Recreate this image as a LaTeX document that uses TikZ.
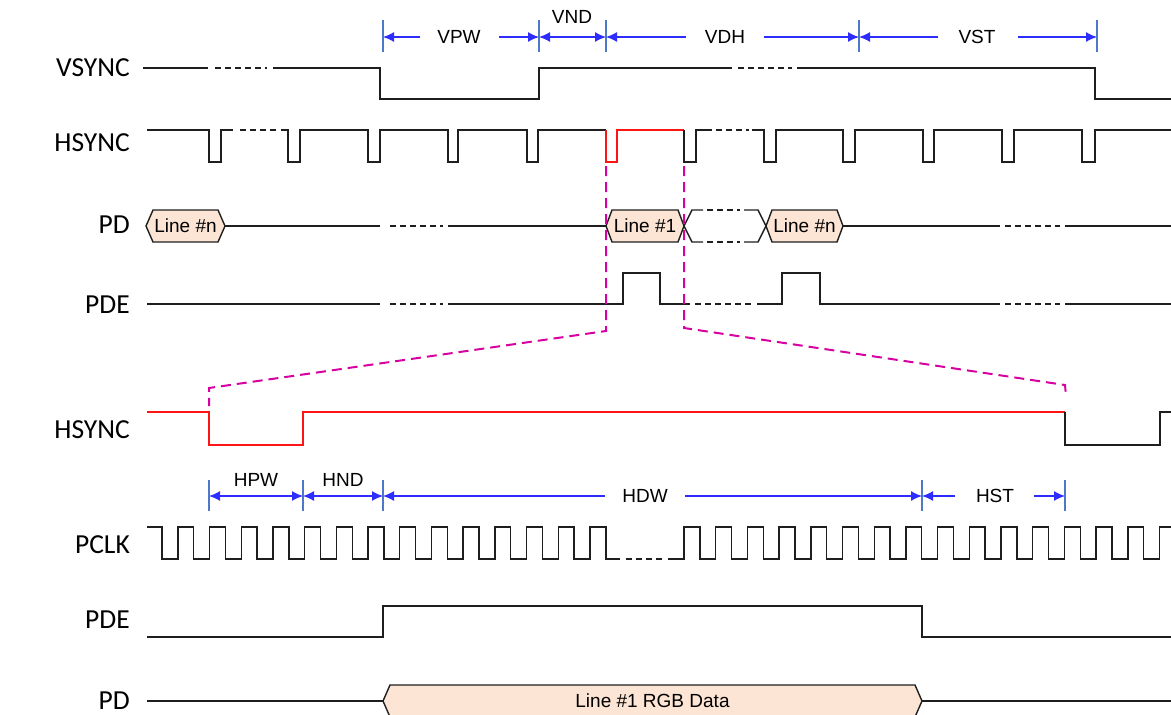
\documentclass[tikz,border=0pt]{standalone}
\usepackage{fontspec}
\usetikzlibrary{arrows.meta}
\newfontfamily\sigfont{Carlito}
\newfontfamily\arlfont{Liberation Sans}
\definecolor{sigblk}{RGB}{30,30,30}
\definecolor{sigred}{RGB}{255,20,20}
\definecolor{dimblue}{RGB}{45,45,255}
\definecolor{tickblue}{RGB}{80,120,200}
\definecolor{zoommag}{RGB}{215,0,160}
\definecolor{peach}{RGB}{252,229,213}
\tikzset{
  sig/.style={draw=sigblk, line width=1.4pt, line join=miter},
  sigr/.style={draw=sigred, line width=1.4pt, line join=miter},
  gapline/.style={draw=sigblk, line width=1.4pt, dash pattern=on 6pt off 4pt},
  hexbox/.style={draw=sigblk, line width=1.4pt, fill=peach, line join=miter},
  siglabel/.style={anchor=east, inner sep=0pt, font=\sigfont\fontsize{27.5}{30}\selectfont},
  dimlabel/.style={inner sep=0pt, font=\arlfont\fontsize{19}{21}\selectfont},
  hexlabel/.style={inner sep=0pt, font=\arlfont\fontsize{19}{21}\selectfont},
  dimarrow/.style={draw=dimblue, line width=1.3pt, -{Latex[length=11pt,width=10pt]}},
  dimboth/.style={draw=dimblue, line width=1.3pt, {Latex[length=11pt,width=10pt]}-{Latex[length=11pt,width=10pt]}},
  dimtick/.style={draw=tickblue, line width=1.1pt},
  zoomline/.style={draw=zoommag, line width=2pt, dash pattern=on 10pt off 6pt}
}
\begin{document}
\begin{tikzpicture}[x=1pt,y=-1pt]
\useasboundingbox (0,0) rectangle (1171,715);

% ---------- signal labels ----------
\node[siglabel] (lvs)  at (130,68)  {VSYNC};
\node[siglabel] (lhs)  at (130,143) {HSYNC};
\node[siglabel] (lpd)  at (130,225) {PD};
\node[siglabel] (lpde) at (130,305) {PDE};
\node[siglabel] (lhs2) at (130,430) {HSYNC};
\node[siglabel] (lclk) at (130,545) {PCLK};
\node[siglabel] (lpde2) at (130,620) {PDE};
\node[siglabel] (lpd2) at (130,701) {PD};

% ---------- upper dimensions ----------
\foreach \x in {383,539,606,859,1097} \draw[dimtick] (\x,20) -- (\x,52);
\draw[dimarrow] (420,37) -- (383,37);
\draw[dimarrow] (499,37) -- (539,37);
\node[dimlabel] (vpw) at (459,37) {VPW};
\draw[dimboth] (539,37) -- (606,37);
\node[dimlabel] (vnd) at (572,17) {VND};
\draw[dimarrow] (686,37) -- (606,37);
\draw[dimarrow] (764,37) -- (859,37);
\node[dimlabel] (vdh) at (725,37) {VDH};
\draw[dimarrow] (938,37) -- (859,37);
\draw[dimarrow] (1018,37) -- (1097,37);
\node[dimlabel] (vst) at (977,37) {VST};

% ---------- VSYNC ----------
\draw[sig] (143,68) -- (208,68);
\draw[gapline] (215,68) -- (267,68);
\draw[sig] (273,68) -- (380,68) -- (380,99) -- (539,99) -- (539,68) -- (732,68);
\draw[gapline] (738,68) -- (792,68);
\draw[sig] (797,68) -- (1095,68) -- (1095,99) -- (1171,99);

% ---------- HSYNC (frame) ----------
\draw[sig] (147,130) -- (209,130) -- (209,162) -- (221,162) -- (221,130) -- (233,130);
\draw[gapline] (240,130) -- (277,130);
\draw[sig] (281,130) -- (288,130) -- (288,162) -- (300,162) -- (300,130)
  -- (368,130) -- (368,162) -- (380,162) -- (380,130)
  -- (448,130) -- (448,162) -- (458,162) -- (458,130)
  -- (527,130) -- (527,162) -- (538,162) -- (538,130) -- (606,130);
\draw[sigr] (606,130) -- (606,162) -- (617,162) -- (617,130) -- (684,130);
\draw[sig] (684,130) -- (684,162) -- (696,162) -- (696,130) -- (712,130);
\draw[gapline] (716,130) -- (749,130);
\draw[sig] (752,130) -- (764,130) -- (764,162) -- (776,162) -- (776,130)
  -- (843,130) -- (843,162) -- (855,162) -- (855,130)
  -- (923,130) -- (923,162) -- (934,162) -- (934,130)
  -- (1002,130) -- (1002,162) -- (1014,162) -- (1014,130)
  -- (1082,130) -- (1082,162) -- (1095,162) -- (1095,130) -- (1171,130);

% ---------- PD (frame) ----------
\draw[hexbox] (146,226) -- (153,210) -- (218,210) -- (225,226) -- (218,242) -- (153,242) -- cycle;
\node[hexlabel] (pdn1) at (185.5,226) {Line \#n};
\draw[sig] (225,226) -- (380,226);
\draw[gapline] (390,226) -- (443,226);
\draw[sig] (448,226) -- (606,226);
\draw[hexbox] (606,226) -- (612,210) -- (678,210) -- (684,226) -- (678,242) -- (612,242) -- cycle;
\node[hexlabel] (pd1) at (645,226) {Line \#1};
\draw[sig] (684,226) -- (692,210) -- (703,210);
\draw[gapline] (707,210) -- (740,210);
\draw[sig] (744,210) -- (758,210) -- (766,226);
\draw[sig] (684,226) -- (692,242) -- (703,242);
\draw[gapline] (707,242) -- (740,242);
\draw[sig] (744,242) -- (758,242) -- (766,226);
\draw[hexbox] (766,226) -- (772,210) -- (837,210) -- (843,226) -- (837,242) -- (772,242) -- cycle;
\node[hexlabel] (pdn2) at (804.5,226) {Line \#n};
\draw[sig] (843,226) -- (1000,226);
\draw[gapline] (1005,226) -- (1060,226);
\draw[sig] (1065,226) -- (1171,226);

% ---------- PDE (frame) ----------
\draw[sig] (147,304) -- (380,304);
\draw[gapline] (390,304) -- (443,304);
\draw[sig] (448,304) -- (623,304) -- (623,273) -- (660,273) -- (660,304) -- (690,304);
\draw[gapline] (695,304) -- (752,304);
\draw[sig] (757,304) -- (782,304) -- (782,273) -- (820,273) -- (820,304) -- (1000,304);
\draw[gapline] (1005,304) -- (1060,304);
\draw[sig] (1065,304) -- (1171,304);

% ---------- zoom lines ----------
\coordinate (zl0) at (606,166);
\coordinate (zl1) at (606,331);
\coordinate (zl2) at (209,388);
\coordinate (zl3) at (209,406);
\coordinate (zr0) at (684,166);
\coordinate (zr1) at (684,328);
\coordinate (zr2) at (1065,385);
\coordinate (zr3) at (1066,396);
\draw[zoomline] (zl0) -- (zl1) -- (zl2) -- (zl3);
\draw[zoomline] (zr0) -- (zr1) -- (zr2) -- (zr3);

% ---------- HSYNC (line) ----------
\draw[sigr] (147,412) -- (209,412) -- (209,445) -- (303,445) -- (303,412) -- (1065,412);
\draw[sig] (1065,412) -- (1065,445) -- (1160,445) -- (1160,412) -- (1171,412);

% ---------- lower dimensions ----------
\foreach \x in {209,303,383,922,1065} \draw[dimtick] (\x,480) -- (\x,511);
\draw[dimboth] (209,496) -- (303,496);
\node[dimlabel] (hpw) at (256,480) {HPW};
\draw[dimboth] (303,496) -- (383,496);
\node[dimlabel] (hnd) at (343,480) {HND};
\draw[dimarrow] (605,496) -- (383,496);
\draw[dimarrow] (685,496) -- (922,496);
\node[dimlabel] (hdw) at (645,496) {HDW};
\draw[dimarrow] (955,496) -- (922,496);
\draw[dimarrow] (1034,496) -- (1065,496);
\node[dimlabel] (hst) at (995,496) {HST};

% ---------- PCLK ----------
\draw[sig] (147,527) foreach \k in {0,...,13} {
    -- ({162+31.7*\k},527) -- ({162+31.7*\k},559)
    -- ({177.85+31.7*\k},559) -- ({177.85+31.7*\k},527) }
  -- (605.8,527) -- (605.8,559) -- (620,559);
\draw[gapline] (626,559) -- (662,559);
\draw[sig] (668,559) foreach \k in {0,...,14} {
    -- ({684+31.7*\k},559) -- ({684+31.7*\k},527)
    -- ({699.85+31.7*\k},527) -- ({699.85+31.7*\k},559) }
  -- (1159.5,559) -- (1159.5,527) -- (1171,527);

% ---------- PDE (line) ----------
\draw[sig] (147,637) -- (383,637) -- (383,606) -- (922,606) -- (922,637) -- (1171,637);

% ---------- PD (line) ----------
\draw[sig] (147,701) -- (383,701);
\draw[hexbox] (383,701) -- (390,685) -- (915,685) -- (922,701) -- (915,717) -- (390,717) -- cycle;
\node[hexlabel] (rgb) at (652.5,701) {Line \#1 RGB Data};
\draw[sig] (922,701) -- (1171,701);
\end{tikzpicture}
\end{document}
